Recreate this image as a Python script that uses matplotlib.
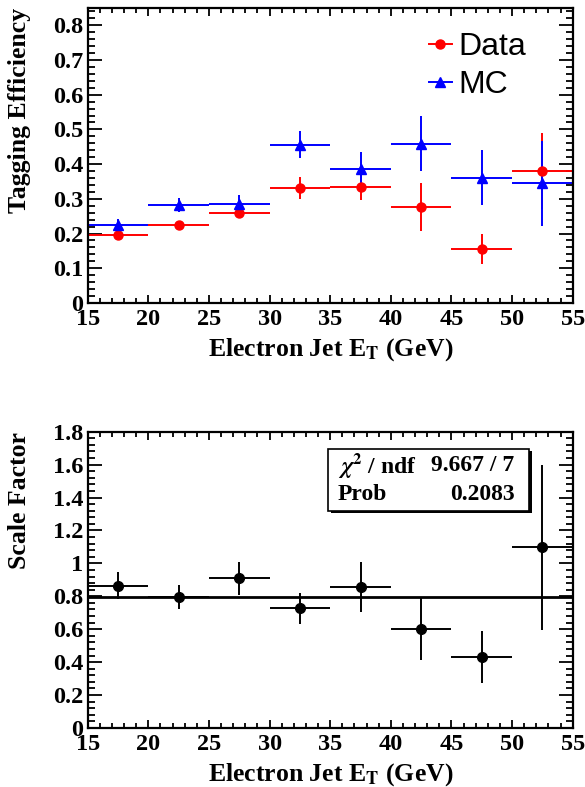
import numpy as np
import matplotlib.pyplot as plt
from matplotlib.lines import Line2D
from matplotlib.patches import Rectangle
from matplotlib.ticker import MultipleLocator, FuncFormatter

plt.rcParams['font.family'] = 'Liberation Serif'
plt.rcParams['font.weight'] = 'bold'
plt.rcParams['mathtext.fontset'] = 'stix'

# bin centres (GeV) and half widths
et_centers = [17.5, 22.5, 27.5, 32.5, 37.5, 42.5, 47.5, 52.5]
et_halfwidth = [2.5] * 8

eff_data = [0.197, 0.224, 0.260, 0.331, 0.333, 0.277, 0.156, 0.380]
eff_data_err = [0.010, 0.008, 0.016, 0.031, 0.037, 0.070, 0.044, 0.110]
eff_mc = [0.226, 0.282, 0.286, 0.456, 0.387, 0.459, 0.361, 0.345]
eff_mc_err = [0.015, 0.019, 0.024, 0.039, 0.048, 0.080, 0.079, 0.122]

sf = [0.865, 0.794, 0.909, 0.727, 0.858, 0.600, 0.430, 1.098]
sf_err = [0.080, 0.073, 0.100, 0.093, 0.153, 0.187, 0.157, 0.500]
sf_fit = 0.7935

chi2_text = '9.667 / 7'
prob_text = '0.2083'


def fmt(v, pos):
    return '%g' % round(v, 3)


def style_axis(ax, ymaj, ymin):
    ax.set_xlim(15, 55)
    ax.xaxis.set_major_locator(MultipleLocator(5))
    ax.xaxis.set_minor_locator(MultipleLocator(1))
    ax.yaxis.set_major_locator(MultipleLocator(ymaj))
    ax.yaxis.set_minor_locator(MultipleLocator(ymin))
    ax.yaxis.set_major_formatter(FuncFormatter(fmt))
    ax.tick_params(which='both', direction='in', top=True, right=True, width=1.3)
    ax.tick_params(axis='x', which='major', length=6, pad=4)
    ax.tick_params(axis='x', which='minor', length=3.5)
    ax.tick_params(axis='y', which='major', length=10, pad=3)
    ax.tick_params(axis='y', which='minor', length=5)
    for lab in ax.get_xticklabels() + ax.get_yticklabels():
        lab.set_fontsize(17.5)
        lab.set_fontweight('bold')
    for sp in ax.spines.values():
        sp.set_linewidth(1.6)


fig = plt.figure(figsize=(5.85, 7.87), dpi=100)
ax1 = fig.add_axes([0.150, 0.615, 0.829, 0.375])
ax2 = fig.add_axes([0.150, 0.075, 0.829, 0.3765])

# efficiency panel
ax1.errorbar(et_centers, eff_data, xerr=et_halfwidth, yerr=eff_data_err, fmt='o',
             color='red', ms=6.5, elinewidth=1.4, capsize=0)
ax1.errorbar(et_centers, eff_mc, xerr=et_halfwidth, yerr=eff_mc_err, fmt='^',
             color='blue', ms=6.5, elinewidth=1.4, capsize=0)
ax1.set_ylim(0, 0.85)
style_axis(ax1, 0.1, 0.02)
ax1.set_xlabel(r'Electron Jet E$_{\mathbf{T}}$ (GeV)', fontsize=18.5, fontweight='bold')
ax1.xaxis.set_label_coords(0.5, -0.158)
ax1.xaxis.label.set_va('center')
ax1.set_ylabel('Tagging Efficiency', fontsize=18.5, fontweight='bold', loc='top')
ax1.yaxis.set_label_coords(-0.14, 1.0)
ax1.yaxis.label.set_va('center')

handles = [Line2D([], [], color='red', marker='o', ms=6.5, lw=1.4),
           Line2D([], [], color='blue', marker='^', ms=6.5, lw=1.4)]
leg = ax1.legend(handles, ['Data', 'MC'], loc='upper left', bbox_to_anchor=(0.645, 1.015),
                 frameon=False, handlelength=0.7, handletextpad=0.2, labelspacing=0.25,
                 prop={'family': 'Liberation Sans', 'size': 23, 'weight': 'normal'})

# scale factor panel
ax2.errorbar(et_centers, sf, xerr=et_halfwidth, yerr=sf_err, fmt='o',
             color='black', ms=7, elinewidth=1.4, capsize=0)
ax2.axhline(sf_fit, color='black', lw=2.0)
ax2.set_ylim(0, 1.8)
style_axis(ax2, 0.2, 0.04)
ax2.set_xlabel(r'Electron Jet E$_{\mathbf{T}}$ (GeV)', fontsize=18.5, fontweight='bold')
ax2.xaxis.set_label_coords(0.5, -0.158)
ax2.xaxis.label.set_va('center')
ax2.set_ylabel('Scale Factor', fontsize=18.5, fontweight='bold', loc='top')
ax2.yaxis.set_label_coords(-0.14, 1.0)
ax2.yaxis.label.set_va('center')

# fit statistics box with shadow
bx0, by0, bw, bh = 0.4955, 0.732, 0.4145, 0.21
ax2.add_patch(Rectangle((bx0 + 0.006, by0 - 0.008), bw, bh, transform=ax2.transAxes,
                        facecolor='black', edgecolor='none', zorder=4))
ax2.add_patch(Rectangle((bx0, by0), bw, bh, transform=ax2.transAxes,
                        facecolor='white', edgecolor='black', lw=1.2, zorder=5))
ax2.text(bx0 + 0.02, by0 + bh * 0.73, r'$\chi^2$ / ndf', transform=ax2.transAxes,
         fontsize=17, fontweight='bold', va='center', ha='left', zorder=6)
ax2.text(bx0 + bw - 0.03, by0 + bh * 0.73, chi2_text, transform=ax2.transAxes,
         fontsize=17, fontweight='bold', va='center', ha='right', zorder=6)
ax2.text(bx0 + 0.02, by0 + bh * 0.26, 'Prob', transform=ax2.transAxes,
         fontsize=17, fontweight='bold', va='center', ha='left', zorder=6)
ax2.text(bx0 + bw - 0.03, by0 + bh * 0.26, prob_text, transform=ax2.transAxes,
         fontsize=17, fontweight='bold', va='center', ha='right', zorder=6)

fig.savefig('out.png', dpi=100)
